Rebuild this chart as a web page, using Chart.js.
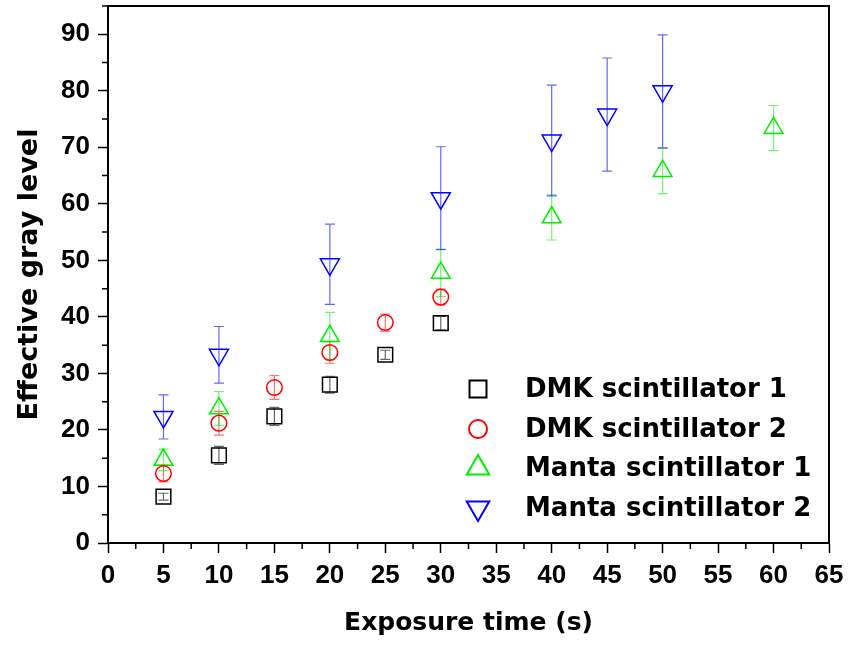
<!DOCTYPE html>
<html>
<head>
<meta charset="utf-8">
<script src="https://cdn.jsdelivr.net/npm/chart.js@4.4.1/dist/chart.umd.min.js"></script>
<style>
    html, body { margin: 0; padding: 0; background: #fff; }
    #wrap { width: 852px; height: 648px; }
</style>
</head>
<body>
<div id="wrap"><canvas id="myChart" width="852" height="648"></canvas></div>
<script>
const seriesNames = ['DMK scintillator 1', 'DMK scintillator 2', 'Manta scintillator 1', 'Manta scintillator 2'];

const dmk1Time = [5, 10, 15, 20, 25, 30];
const dmk1Gray = [8.2, 15.5, 22.4, 28.0, 33.3, 38.9];
const dmk1Err = [0.6, 1.6, 1.6, 1.5, 0.8, 1.2];

const dmk2Time = [5, 10, 15, 20, 25, 30];
const dmk2Gray = [12.3, 21.2, 27.5, 33.7, 39.0, 43.5];
const dmk2Err = [1.5, 2.1, 2.1, 1.9, 1.5, 1.4];

const manta1Time = [5, 10, 20, 30, 40, 50, 60];
const manta1Gray = [14.7, 23.8, 36.6, 47.8, 57.6, 65.8, 73.4];
const manta1Err = [1.9, 3.0, 4.2, 4.2, 4.0, 4.0, 4.0];

const manta2Time = [5, 10, 20, 30, 40, 45, 50];
const manta2Gray = [22.3, 33.3, 49.3, 61.0, 71.2, 75.8, 79.9];
const manta2Err = [3.9, 5.0, 7.1, 9.1, 9.8, 10.0, 10.0];

const xTicks = [0, 5, 10, 15, 20, 25, 30, 35, 40, 45, 50, 55, 60, 65];
const yTicks = [0, 10, 20, 30, 40, 50, 60, 70, 80, 90];

function toPoints(xs, ys, errs) {
    return xs.map((x, i) => ({ x: x, y: ys[i], err: errs[i] }));
}

function makeSet(label, data, color, barColor, style, radius, rotation) {
    return {
        label: label,
        data: data,
        showLine: false,
        pointStyle: style,
        pointRadius: radius,
        pointRotation: rotation,
        pointBorderWidth: 1.5,
        pointBorderColor: color,
        pointBackgroundColor: 'rgba(0,0,0,0)',
        borderColor: color,
        errColor: barColor
    };
}

const errorBars = {
    id: 'errorBars',
    beforeDatasetsDraw: (chart) => {
        const { ctx } = chart;
        const yScale = chart.scales.y;
        ctx.save();
        ctx.lineWidth = 1.2;
        chart.data.datasets.forEach((ds, i) => {
            const meta = chart.getDatasetMeta(i);
            ctx.strokeStyle = ds.errColor;
            ds.data.forEach((p, j) => {
                const x = meta.data[j].x;
                const yTop = yScale.getPixelForValue(p.y + p.err);
                const yBot = yScale.getPixelForValue(p.y - p.err);
                ctx.beginPath();
                ctx.moveTo(x, yTop);
                ctx.lineTo(x, yBot);
                ctx.moveTo(x - 5, yTop);
                ctx.lineTo(x + 5, yTop);
                ctx.moveTo(x - 5, yBot);
                ctx.lineTo(x + 5, yBot);
                ctx.stroke();
            });
        });
        ctx.restore();
    }
};

const frameAndLegend = {
    id: 'frameAndLegend',
    afterDraw: (chart) => {
        const { ctx, chartArea } = chart;
        const xs = chart.scales.x;
        const ys = chart.scales.y;
        ctx.save();
        ctx.strokeStyle = '#000';
        ctx.lineWidth = 2;
        ctx.strokeRect(chartArea.left, chartArea.top, chartArea.right - chartArea.left, chartArea.bottom - chartArea.top);

        // minor ticks
        ctx.lineWidth = 1.5;
        ctx.beginPath();
        for (let v = 2.5; v < 65; v += 5) {
            const px = xs.getPixelForValue(v);
            ctx.moveTo(px, chartArea.bottom);
            ctx.lineTo(px, chartArea.bottom + 6);
        }
        for (let v = 5; v <= 95; v += 10) {
            const py = ys.getPixelForValue(v);
            ctx.moveTo(chartArea.left, py);
            ctx.lineTo(chartArea.left - 6, py);
        }
        ctx.stroke();

        // legend
        const legendSizes = [12, 9, 13, 13];
        const rowY = [389, 429, 468, 508];
        ctx.font = 'bold 26px "DejaVu Sans"';
        ctx.textBaseline = 'middle';
        ctx.textAlign = 'left';
        chart.data.datasets.forEach((ds, i) => {
            ctx.strokeStyle = ds.pointBorderColor;
            ctx.fillStyle = 'rgba(0,0,0,0)';
            ctx.lineWidth = 2;
            Chart.helpers.drawPoint(ctx, {
                pointStyle: ds.pointStyle,
                radius: legendSizes[i],
                rotation: ds.pointRotation,
                borderWidth: 2
            }, 478, rowY[i]);
            ctx.fillStyle = '#000';
            ctx.fillText(ds.label, 525, rowY[i] + 1);
        });
        ctx.restore();
    }
};

function init() {
    const ctx = document.getElementById('myChart').getContext('2d');

    const datasets = [
        makeSet(seriesNames[0], toPoints(dmk1Time, dmk1Gray, dmk1Err), '#000000', 'rgba(0,0,0,0.6)', 'rect', 10.4, 0),
        makeSet(seriesNames[1], toPoints(dmk2Time, dmk2Gray, dmk2Err), '#ff0000', 'rgba(255,0,0,0.55)', 'circle', 7.8, 0),
        makeSet(seriesNames[2], toPoints(manta1Time, manta1Gray, manta1Err), '#00ee00', 'rgba(0,230,0,0.55)', 'triangle', 10.8, 0),
        makeSet(seriesNames[3], toPoints(manta2Time, manta2Gray, manta2Err), '#0000ff', 'rgba(0,0,255,0.6)', 'triangle', 11, 180)
    ];

    new Chart(ctx, {
        type: 'scatter',
        data: { datasets },
        options: {
            responsive: false,
            devicePixelRatio: 1,
            animation: false,
            events: [],
            layout: { autoPadding: false, padding: { left: 0, top: 6, right: 23, bottom: 0 } },
            plugins: {
                legend: { display: false },
                tooltip: { enabled: false }
            },
            scales: {
                x: {
                    type: 'linear',
                    min: 0,
                    max: 65,
                    afterFit: (s) => { s.height = 105; s.paddingLeft = 0; s.paddingRight = 0; },
                    afterBuildTicks: (s) => { s.ticks = xTicks.map(v => ({ value: v })); },
                    border: { display: true, color: '#000', width: 2 },
                    grid: { display: true, drawOnChartArea: false, tickLength: 10, tickWidth: 1.5, tickColor: '#000' },
                    ticks: {
                        color: '#000',
                        padding: 7,
                        maxRotation: 0,
                        font: { family: '"Liberation Sans", Arial, sans-serif', size: 26, weight: 'bold' }
                    },
                    title: {
                        display: true,
                        text: 'Exposure time (s)',
                        color: '#000',
                        padding: { top: 0, bottom: 10 },
                        font: { family: '"DejaVu Sans", sans-serif', size: 25, weight: 'bold' }
                    }
                },
                y: {
                    type: 'linear',
                    min: 0,
                    max: 95,
                    afterFit: (s) => { s.width = 108; s.paddingTop = 0; s.paddingBottom = 0; },
                    afterBuildTicks: (s) => { s.ticks = yTicks.map(v => ({ value: v })); },
                    border: { display: true, color: '#000', width: 2 },
                    grid: { display: true, drawOnChartArea: false, tickLength: 10, tickWidth: 1.5, tickColor: '#000' },
                    ticks: {
                        color: '#000',
                        padding: 8,
                        font: { family: '"Liberation Sans", Arial, sans-serif', size: 26, weight: 'bold' }
                    },
                    title: {
                        display: true,
                        text: 'Effective gray level',
                        color: '#000',
                        padding: { top: 14, bottom: 0 },
                        font: { family: '"DejaVu Sans", sans-serif', size: 27, weight: 'bold' }
                    }
                }
            }
        },
        plugins: [errorBars, frameAndLegend]
    });
}

init();
</script>
</body>
</html>
